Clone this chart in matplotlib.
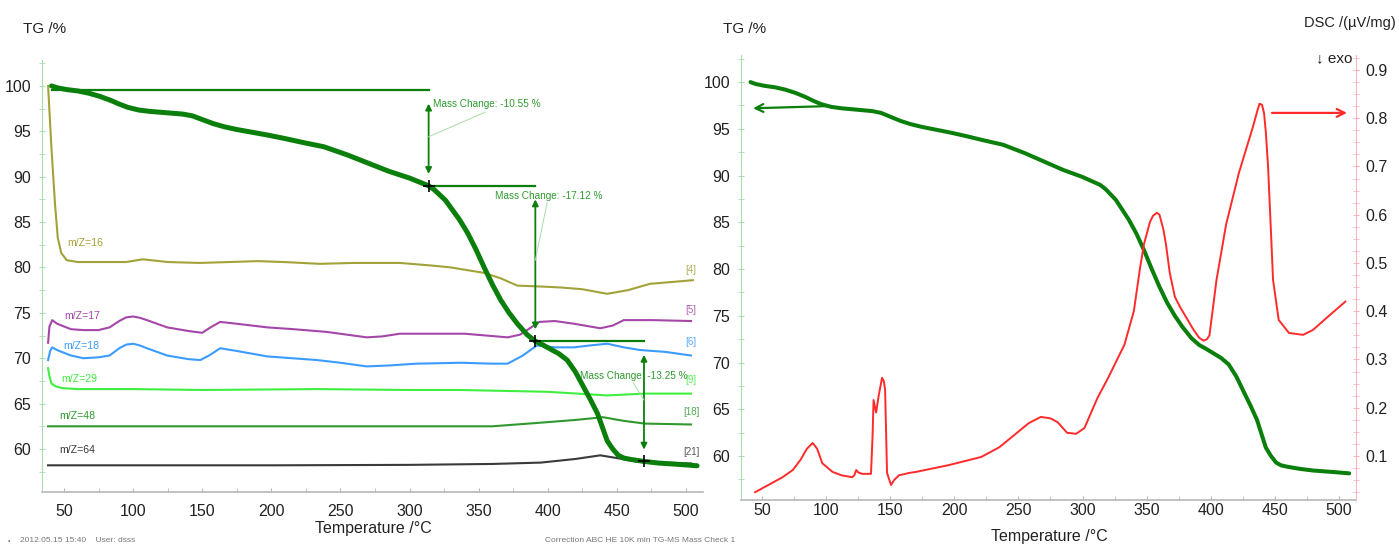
import matplotlib
matplotlib.use("Agg")
import matplotlib.pyplot as plt
from matplotlib.ticker import MultipleLocator

plt.rcParams['font.family'] = ['Liberation Sans', 'DejaVu Sans']

# ---------------- data ----------------
# thermogravimetric curve (same run shown in both panels)
tg_temp = [41, 45, 52, 60, 68, 76, 84, 90, 96, 104, 112, 124, 136, 143, 150, 158,
           166, 175, 186, 197, 210, 222, 238, 255, 270, 285, 300, 313.8, 318, 326, 336,
           342, 348, 354, 360, 366, 372, 378, 385, 391, 396, 402, 408, 414, 420, 426,
           431, 436, 443, 447, 451, 455, 460, 469.6, 480, 495, 508]
tg_mass = [100.0, 99.8, 99.6, 99.45, 99.2, 98.85, 98.4, 98.0, 97.65, 97.35, 97.2,
           97.05, 96.9, 96.7, 96.3, 95.85, 95.5, 95.2, 94.9, 94.6, 94.2, 93.8, 93.3,
           92.4, 91.5, 90.6, 89.85, 89.0, 88.55, 87.4, 85.3, 83.8, 82.0, 80.0, 78.1,
           76.4, 75.0, 73.8, 72.6, 71.88, 71.5, 71.0, 70.5, 69.8, 68.5, 66.8, 65.4,
           63.9, 60.9, 60.0, 59.3, 59.0, 58.85, 58.63, 58.45, 58.3, 58.15]

# mass-spectrometer ion currents (offset traces)
ms16_t = [38.5, 41, 43.5, 45.5, 48, 52, 60, 80, 95, 107, 125, 148, 170, 190, 209, 235,
          260, 293, 317, 330, 354, 366, 378, 395, 409, 425, 443, 458, 474, 490, 505]
ms16_v = [100, 93, 87, 83.3, 81.6, 80.8, 80.6, 80.6, 80.6, 80.9, 80.6, 80.5, 80.6, 80.7,
          80.6, 80.4, 80.5, 80.5, 80.2, 80.0, 79.4, 78.8, 78.0, 77.9, 77.8, 77.6, 77.1,
          77.5, 78.2, 78.4, 78.6]

ms17_t = [38.5, 39.5, 41.5, 45, 55, 64, 75, 83, 90, 95, 100, 105, 110, 124.6, 140, 150,
          156, 163, 175, 197, 216, 240, 269, 280, 293, 317, 340, 371, 380, 394, 405, 419,
          438, 447, 455, 475, 503.6]
ms17_v = [71.7, 73.5, 74.2, 73.8, 73.2, 73.1, 73.1, 73.4, 74.1, 74.5, 74.6, 74.45, 74.2,
          73.4, 73.0, 72.8, 73.4, 74.0, 73.8, 73.4, 73.2, 72.9, 72.3, 72.4, 72.7, 72.7,
          72.7, 72.3, 72.6, 74.0, 74.1, 73.8, 73.3, 73.6, 74.2, 74.2, 74.1]

ms18_t = [38.5, 40, 41.5, 45, 55, 64, 75, 83, 90, 95, 100, 105, 110, 124.6, 140, 148.6,
          155, 163, 175, 197, 215, 233, 250, 269, 285, 305, 337, 360, 371, 382, 392, 405,
          419, 430, 443, 455, 467, 485, 503.6]
ms18_v = [69.8, 70.8, 71.2, 70.9, 70.3, 70.0, 70.1, 70.3, 71.1, 71.5, 71.6, 71.4, 71.1,
          70.3, 69.9, 69.8, 70.3, 71.1, 70.8, 70.2, 70.0, 69.8, 69.5, 69.1, 69.2, 69.4,
          69.5, 69.4, 69.4, 70.3, 71.4, 71.2, 71.2, 71.4, 71.6, 71.2, 70.9, 70.7, 70.3]

ms29_t = [38.5, 39.5, 41, 44, 49, 60, 100, 150, 233, 300, 337, 400, 443, 470, 503.6]
ms29_v = [68.9, 68.0, 67.2, 66.9, 66.7, 66.6, 66.6, 66.5, 66.6, 66.5, 66.5, 66.3, 65.9,
          66.1, 66.1]

ms48_t = [38.5, 100, 200, 300, 360, 395, 420, 440, 455, 470, 503.6]
ms48_v = [62.5, 62.5, 62.5, 62.5, 62.5, 62.9, 63.2, 63.5, 63.1, 62.8, 62.7]

ms64_t = [38.5, 100, 200, 300, 360, 395, 420, 438, 450, 465, 503.6]
ms64_v = [58.2, 58.2, 58.2, 58.25, 58.35, 58.5, 58.9, 59.3, 59.0, 58.6, 58.4]

ms_names = ["m/Z=16", "m/Z=17", "m/Z=18", "m/Z=29", "m/Z=48", "m/Z=64"]
ms_tags = ["[4]", "[5]", "[6]", "[9]", "[18]", "[21]"]

# mass-change evaluation steps
step_start_level = 99.55
step_temps = [313.8, 391.0, 469.6]
step_changes = [-10.55, -17.12, -13.25]

# DSC signal
dsc_temp = [44.6, 55, 66, 74, 80, 85, 89.5, 93, 97, 105, 112, 120.4, 122, 123.5, 125,
            128, 135, 136.2, 137, 139, 141, 143.6, 145, 146, 147.5, 150.6, 153, 156.8,
            165, 170, 195.5, 221, 235, 247, 258, 267.5, 275, 280.6, 288, 295, 301.5,
            311.6, 320, 327, 332.6, 340, 345, 348, 352.6, 355, 358, 360, 363, 365, 368,
            372, 376, 386.7, 391, 394.4, 397, 399, 404.5, 412, 422, 433, 436, 438, 440,
            441.6, 443, 444.7, 447, 448.6, 453, 461, 472, 479.6, 492, 505]
dsc_val = [0.025, 0.040, 0.056, 0.071, 0.092, 0.115, 0.127, 0.115, 0.085, 0.067, 0.060,
           0.056, 0.060, 0.071, 0.066, 0.063, 0.063, 0.140, 0.216, 0.190, 0.225, 0.262,
           0.255, 0.237, 0.065, 0.040, 0.050, 0.060, 0.065, 0.067, 0.081, 0.098, 0.118,
           0.144, 0.168, 0.181, 0.178, 0.170, 0.148, 0.146, 0.158, 0.220, 0.262, 0.300,
           0.330, 0.400, 0.492, 0.540, 0.585, 0.598, 0.604, 0.600, 0.570, 0.540, 0.480,
           0.430, 0.409, 0.361, 0.345, 0.339, 0.342, 0.350, 0.465, 0.580, 0.687, 0.783,
           0.812, 0.830, 0.828, 0.810, 0.770, 0.700, 0.563, 0.465, 0.382, 0.355, 0.351,
           0.361, 0.390, 0.420]

# ---------------- styling ----------------
TG_GREEN = "#0b7f0b"
TXT_GREEN = "#2f9a2f"
SPINE_GREEN = "#a9ddb0"
SPINE_PINK = "#ffb3b8"
AX_GRAY = "#b8b8b8"
INK = "#222222"
ms_colors = ["#a3a23a", "#a447a8", "#3b9cff", "#3fef3f", "#2f992f", "#3a3a3a"]

W, H = 1399, 546
fig = plt.figure(figsize=(W / 100, H / 100), dpi=100)


def frac(x, y):
    return x / W, 1 - y / H


def style_axes(ax, pad_x, pad_y):
    ax.spines['top'].set_visible(False)
    ax.spines['right'].set_visible(False)
    ax.spines['left'].set_color(SPINE_GREEN)
    ax.spines['bottom'].set_color(AX_GRAY)
    ax.spines['bottom'].set_linewidth(1.2)
    ax.xaxis.set_major_locator(MultipleLocator(50))
    ax.xaxis.set_minor_locator(MultipleLocator(25))
    ax.yaxis.set_major_locator(MultipleLocator(5))
    ax.yaxis.set_minor_locator(MultipleLocator(2.5))
    ax.tick_params(axis='x', which='both', direction='in', length=3, color=AX_GRAY,
                   labelsize=11.5, pad=pad_x, labelcolor=INK)
    ax.tick_params(axis='y', which='both', direction='inout', length=4,
                   color=SPINE_GREEN, labelsize=11.5, pad=pad_y, labelcolor=INK)
    ax.set_yticks([60, 65, 70, 75, 80, 85, 90, 95, 100])


# ---------------- left panel: TG + MS ----------------
x0, y0 = 42, 60
x1, y1 = 703, 492
axL = fig.add_axes([x0 / W, 1 - y1 / H, (x1 - x0) / W, (y1 - y0) / H])
axL.set_xlim(34.1, 512.3)
axL.set_ylim(55.26, 102.86)
style_axes(axL, pad_x=9, pad_y=6)

ms_t = [ms16_t, ms17_t, ms18_t, ms29_t, ms48_t, ms64_t]
ms_v = [ms16_v, ms17_v, ms18_v, ms29_v, ms48_v, ms64_v]
name_pos = [(52.2, 82.7), (50.0, 74.7), (49.3, 71.4), (47.8, 67.7), (46.4, 63.6), (46.4, 59.9)]
tag_pos = [79.7, 75.3, 71.8, 67.6, 64.1, 59.7]
for t, v, c, name, (nx, ny), tag, ty in zip(ms_t, ms_v, ms_colors, ms_names, name_pos,
                                            ms_tags, tag_pos):
    axL.plot(t, v, color=c, lw=1.5, zorder=2)
    axL.text(nx, ny, name, color=c, fontsize=7.6, ha='left', va='center')
    axL.text(503.7, ty, tag, color=c, fontsize=7, ha='center', va='center', alpha=0.85)

axL.plot(tg_temp, tg_mass, color=TG_GREEN, lw=3.6, zorder=4, solid_capstyle='round',
         solid_joinstyle='round')

# mass-change evaluation: baseline, double arrows, labels and markers
levels = [step_start_level]
for d in step_changes:
    levels.append(levels[-1] + d)
seg_starts = [41.0] + step_temps[:-1]
text_anchor = [(317.0, 98.0), (361.9, 87.9), (423.4, 68.0)]
leader_end = [(354.6, 97.1), (399.5, 87.1), (461.7, 67.3)]
leader_start_y = [94.4, 80.8, 65.4]
for i, (tx, d) in enumerate(zip(step_temps, step_changes)):
    top, bot = levels[i], levels[i + 1]
    axL.plot([seg_starts[i], tx], [top, top], color=TG_GREEN, lw=1.6, zorder=3)
    axL.annotate('', xy=(tx, bot + 1.3), xytext=(tx, top - 1.5),
                 arrowprops=dict(arrowstyle='<|-|>', color=TG_GREEN, lw=1.3,
                                 mutation_scale=9, shrinkA=0, shrinkB=0), zorder=3)
    axL.plot([tx, leader_end[i][0]], [leader_start_y[i], leader_end[i][1]],
             color="#a9dca9", lw=0.7, zorder=3)
    axL.text(text_anchor[i][0], text_anchor[i][1], f"Mass Change: {d:.2f} %",
             color=TXT_GREEN, fontsize=7.2, ha='left', va='center', zorder=5)
    axL.plot([tx], [bot], marker='+', color='black', ms=8, mew=1.2, zorder=6)

# ---------------- right panel: TG + DSC ----------------
x0, y0 = 741, 55
x1, y1 = 1356, 500
axR = fig.add_axes([x0 / W, 1 - y1 / H, (x1 - x0) / W, (y1 - y0) / H])
axR.set_xlim(33.6, 513.3)
axR.set_ylim(55.3, 102.9)
style_axes(axR, pad_x=2, pad_y=6)
axR.plot(tg_temp, tg_mass, color=TG_GREEN, lw=2.9, zorder=4, solid_capstyle='round',
         solid_joinstyle='round')
axR.annotate('', xy=(43.0, 97.2), xytext=(100.7, 97.43),
             arrowprops=dict(arrowstyle='->', color=TG_GREEN, lw=1.6, mutation_scale=14,
                             shrinkA=0, shrinkB=0))

axD = axR.twinx()
axD.set_ylim(0.0088, 0.931)
for s in ['top', 'left', 'bottom']:
    axD.spines[s].set_visible(False)
axD.spines['right'].set_color(SPINE_PINK)
axD.yaxis.set_major_locator(MultipleLocator(0.1))
axD.yaxis.set_minor_locator(MultipleLocator(0.025))
axD.set_yticks([0.1, 0.2, 0.3, 0.4, 0.5, 0.6, 0.7, 0.8, 0.9])
axD.tick_params(axis='y', which='both', direction='inout', length=4, color=SPINE_PINK,
                labelsize=11.5, pad=5, labelcolor=INK)
axD.plot(dsc_temp, dsc_val, color="#ff2a2a", lw=1.4, zorder=3, solid_joinstyle='round')
axD.annotate('', xy=(506.3, 0.811), xytext=(447.8, 0.811),
             arrowprops=dict(arrowstyle='->', color="#ff2a2a", lw=1.6, mutation_scale=14,
                             shrinkA=0, shrinkB=0))

# ---------------- axis titles and footers ----------------
fig.text(*frac(23, 29), "TG /%", fontsize=11, ha='left', va='center', color=INK)
fig.text(*frac(723, 29), "TG /%", fontsize=11, ha='left', va='center', color=INK)
fig.text(*frac(1396, 23), "DSC /(\u00b5V/mg)", fontsize=10.5, ha='right', va='center',
         color=INK)
fig.text(*frac(1316, 58), "\u2193 exo", fontsize=11, ha='left', va='center', color=INK)
fig.text(*frac(373, 528), "Temperature /\u00b0C", fontsize=11.5, ha='center', va='center',
         color=INK)
fig.text(*frac(1049, 537), "Temperature /\u00b0C", fontsize=11.5, ha='center',
         va='center', color=INK)
fig.text(*frac(8, 541), "\u2022", fontsize=5, ha='left', va='center', color="#777777")
fig.text(*frac(20, 541), "2012.05.15 15:40    User: dsss", fontsize=6, ha='left',
         va='center', color="#777777")
fig.text(*frac(545, 540), "Correction ABC HE 10K min TG-MS Mass Check 1", fontsize=6,
         ha='left', va='center', color="#777777")

fig.savefig("out.png", dpi=100, facecolor="white")
